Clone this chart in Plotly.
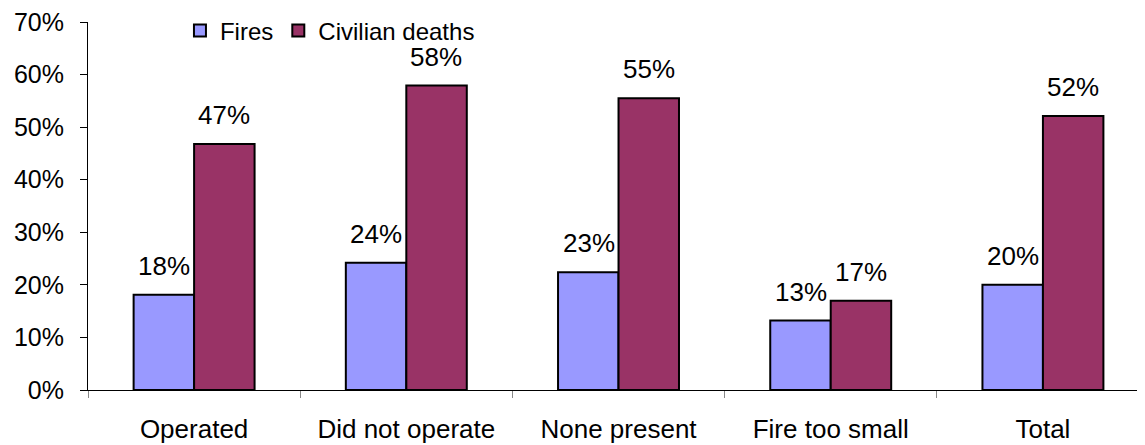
import plotly.graph_objects as go

categories = ["Operated", "Did not operate", "None present", "Fire too small", "Total"]
fires = [18.1, 24.2, 22.4, 13.2, 20.0]
deaths = [46.8, 57.9, 55.5, 17.0, 52.1]
fires_labels = ["18%", "24%", "23%", "13%", "20%"]
deaths_labels = ["47%", "58%", "55%", "17%", "52%"]
y_ticks = [0, 10, 20, 30, 40, 50, 60, 70]

FONT = "Arial, Liberation Sans, sans-serif"

fig = go.Figure()
fig.add_bar(name="Fires", x=categories, y=fires, marker=dict(color="#9999FF", line=dict(color="black", width=2)))
fig.add_bar(name="Civilian deaths", x=categories, y=deaths, marker=dict(color="#993366", line=dict(color="black", width=2)))

for i, c in enumerate(categories):
    fig.add_annotation(x=c, y=fires[i], text=fires_labels[i], showarrow=False, xref="x", yref="y",
                       xanchor="center", yanchor="bottom", xshift=-30, yshift=12,
                       font=dict(size=26, color="black", family=FONT))
    fig.add_annotation(x=c, y=deaths[i], text=deaths_labels[i], showarrow=False, xref="x", yref="y",
                       xanchor="center", yanchor="bottom", xshift=30, yshift=12,
                       font=dict(size=26, color="black", family=FONT))

fig.update_layout(
    width=1137, height=437,
    margin=dict(l=80, r=0, t=14, b=55),
    paper_bgcolor="white", plot_bgcolor="white",
    barmode="group", bargap=0.43, bargroupgap=0,
    font=dict(family=FONT, size=24, color="black"),
    showlegend=True,
    legend=dict(orientation="h", x=0.087, y=0.976, xanchor="left", yanchor="middle",
                font=dict(size=24, family=FONT), bgcolor="rgba(0,0,0,0)",
                itemwidth=30, traceorder="normal"),
    xaxis=dict(range=[-0.5, 4.481], showline=True, linecolor="black", linewidth=1,
               ticks="outside", tickson="boundaries", ticklen=7, tickcolor="#888888",
               showgrid=False, zeroline=False, tickfont=dict(size=26, family=FONT),
               ticklabelstandoff=16, automargin=False),
    yaxis=dict(range=[0, 70], tickvals=y_ticks, ticktext=[f"{v}%" for v in y_ticks],
               showline=True, linecolor="black", linewidth=1, ticks="outside", ticklen=7,
               tickcolor="black", showgrid=False, zeroline=False,
               tickfont=dict(size=25, family=FONT), ticklabelstandoff=11,
               ticklabeloverflow="allow", automargin=False),
)

fig.write_html("out.html")
